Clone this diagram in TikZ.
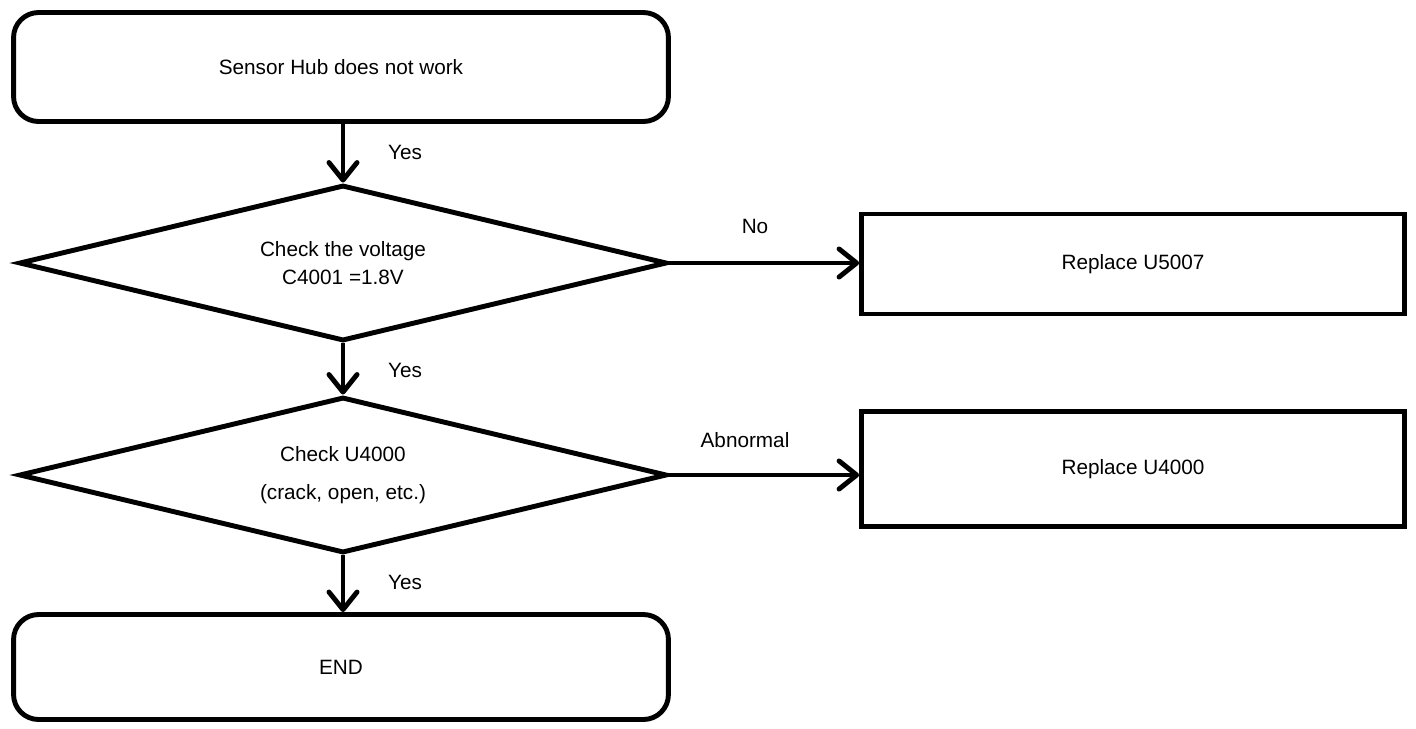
\documentclass[tikz,border=0pt]{standalone}
\usepackage{fontspec}
\setmainfont{Liberation Sans}
\usetikzlibrary{arrows.meta, shapes.geometric}

\begin{document}
\begin{tikzpicture}[x=0.02cm, y=-0.02cm, >={Straight Barb[length=10pt,width=16pt,round]},
    line width=2.8pt, font=\fontsize{11.8}{15.9}\selectfont]
      % Node styles
      \tikzset{
        endnode/.style={draw, rounded corners=0.5cm, minimum width=13.1cm, minimum height=2.18cm, align=center},
        checknode/.style={draw, diamond, aspect=4.15, minimum width=12.96cm, minimum height=3.12cm, inner sep=0pt, align=center},
        fixnode/.style={draw, rectangle, minimum width=10.86cm, minimum height=2.0cm, align=center},
        answer/.style={inner sep=0pt},
      }
      \useasboundingbox (0,0) rectangle (1416,728);
      % Nodes
      \node (start) [endnode] at (341,67) {Sensor Hub does not work};
      \node (volt) [checknode] at (343,263) {Check the voltage\\C4001 =1.8V};
      \node (fixa) [fixnode] at (1133,264) {Replace U5007};
      \node (part) [checknode] at (343,475) {Check U4000\\[6pt](crack, open, etc.)};
      \node (fixb) [fixnode, minimum height=2.3cm] at (1133,469) {Replace U4000};
      \node (end) [endnode, minimum height=2.1cm] at (341,667) {END};
      % Labels
      \node (yesa) [answer] at (405,152) {Yes};
      \node (no) [answer] at (755,226) {No};
      \node (yesb) [answer] at (405,370) {Yes};
      \node (bad) [answer] at (745,440) {Abnormal};
      \node (yesc) [answer] at (405,582) {Yes};
      % Arrows
      \draw[->] (start.south -| volt.north) -- (volt.north);
      \draw[->] (volt.east) -- (volt.east -| fixa.west);
      \draw[->] (volt.south) -- (part.north);
      \draw[->] (part.east) -- (part.east -| fixb.west);
      \draw[->] (part.south) -- (part.south |- end.north);
    \end{tikzpicture}
\end{document}
